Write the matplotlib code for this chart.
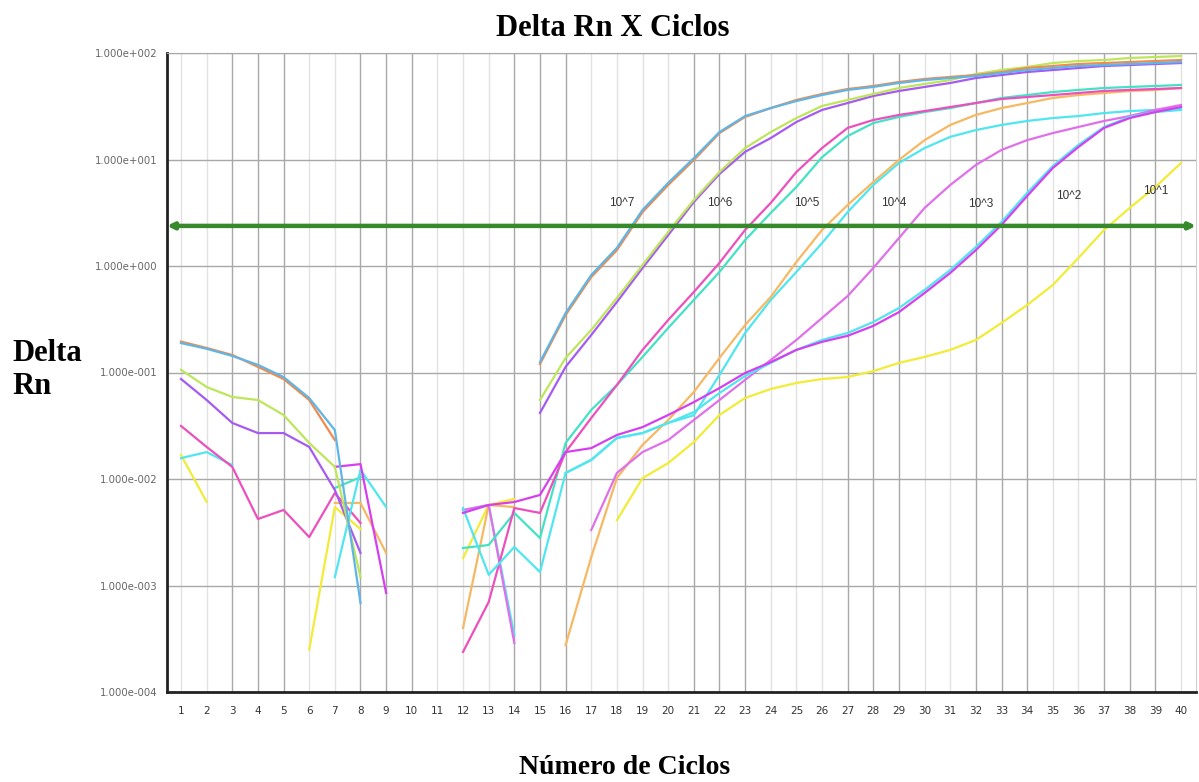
import numpy as np
import matplotlib.pyplot as plt
from matplotlib.ticker import FixedLocator, FuncFormatter, NullLocator

nan = np.nan
ciclos = np.arange(1, 41)

# Delta Rn por ciclo, duplicatas de cada diluição (nan = sem leitura)
laranja_1e7 = [0.195, 0.170, 0.146, 0.113, 0.0869, 0.0552, 0.0232, nan, nan, nan,
               nan, nan, nan, nan, 0.120, 0.347, 0.788, 1.41, 3.21, 5.76,
               9.89, 17.7, 25.1, 30.4, 36.2, 41.2, 45.9, 49.0, 53.4, 57.0,
               59.6, 62.1, 66.3, 72.3, 75.5, 78.8, 80.5, 82.3, 84.1, 85.9]
azul_1e7 = [0.189, 0.167, 0.143, 0.118, 0.0907, 0.0576, 0.0288, 0.000685, nan, nan,
            nan, nan, nan, nan, 0.125, 0.362, 0.823, 1.48, 3.36, 6.03,
            10.3, 18.1, 25.6, 30.4, 35.4, 40.3, 45.0, 48.0, 52.3, 55.7,
            58.2, 60.8, 64.9, 69.2, 72.3, 75.5, 77.1, 78.8, 80.5, 82.3]
verde_1e6 = [0.106, 0.0731, 0.0589, 0.0552, 0.0399, 0.0218, 0.0130, 0.00120, nan, nan,
             nan, nan, nan, nan, 0.0552, 0.137, 0.251, 0.501, 1.02, 2.09,
             4.17, 7.63, 12.8, 18.1, 24.5, 31.8, 36.2, 41.2, 46.9, 51.2,
             55.7, 63.5, 69.2, 73.9, 80.5, 84.1, 85.9, 89.8, 91.7, 93.7]
roxo_1e6 = [0.0869, 0.0552, 0.0336, 0.0270, 0.0270, 0.0200, 0.00788, 0.00202, nan, nan,
            nan, nan, nan, nan, 0.0417, 0.113, 0.225, 0.459, 0.958, 1.95,
            3.99, 7.31, 11.8, 15.9, 22.5, 29.2, 33.9, 39.5, 44.0, 48.0,
            52.3, 58.2, 62.1, 66.3, 69.2, 72.3, 75.5, 77.1, 78.8, 80.5]
rosa_1e5 = [0.0315, 0.0200, 0.0130, 0.00421, 0.00512, 0.00285, 0.00739, 0.00386, nan, nan,
            nan, 0.000238, 0.000700, 0.00534, 0.00480, 0.0179, 0.0374, 0.0763, 0.163, 0.311,
            0.570, 1.07, 2.18, 3.91, 7.63, 12.8, 19.8, 23.5, 26.2, 28.5,
            31.1, 33.9, 37.0, 38.6, 40.3, 42.1, 44.0, 45.0, 45.9, 46.9]
turquesa_1e5 = [nan, nan, nan, nan, nan, nan, 0.00823, 0.0104, nan, nan,
                nan, 0.00225, 0.00240, 0.00480, 0.00279, 0.0218, 0.0445, 0.0763, 0.140, 0.262,
                0.480, 0.879, 1.75, 3.15, 5.52, 10.5, 16.6, 22.0, 25.1, 27.9,
                30.4, 33.9, 37.8, 40.3, 43.0, 45.0, 46.9, 48.0, 49.0, 50.1]
laranja_1e4 = [nan, nan, nan, nan, nan, nan, 0.00596, 0.00596, 0.00202, nan,
               nan, 0.000399, 0.00570, 0.00545, nan, 0.000276, 0.00185, 0.0102, 0.0209, 0.0358,
               0.0656, 0.137, 0.279, 0.512, 1.09, 2.18, 3.74, 6.15, 9.90, 15.2,
               21.1, 26.2, 30.4, 33.9, 37.8, 40.3, 42.1, 44.0, 45.0, 46.9]
ciano_1e4 = [0.0157, 0.0179, 0.0135, nan, nan, nan, nan, nan, nan, nan,
             nan, 0.00512, 0.00570, 0.000343, nan, 0.0114, 0.0151, 0.0243, 0.0270, 0.0336,
             0.0397, 0.0948, 0.235, 0.480, 0.879, 1.64, 3.21, 5.76, 9.27, 12.8,
             16.3, 18.9, 21.1, 23.0, 24.5, 25.6, 27.3, 28.5, 29.2, 30.4]
magenta_1e3 = [nan, nan, nan, nan, nan, nan, nan, nan, nan, nan,
               nan, 0.00510, 0.00570, 0.000288, nan, nan, 0.00332, 0.0114, 0.0179, 0.0232,
               0.0358, 0.0552, 0.0852, 0.131, 0.202, 0.325, 0.523, 0.958, 1.83, 3.51,
               5.76, 8.88, 12.3, 15.2, 17.7, 20.2, 23.0, 25.6, 29.2, 32.5]
ciano_1e2 = [nan, nan, nan, nan, nan, nan, 0.00120, 0.0122, 0.00545, nan,
             nan, 0.00534, 0.00126, 0.00230, 0.00134, 0.0114, 0.0151, 0.0243, 0.0270, 0.0336,
             0.0425, 0.0642, 0.0927, 0.123, 0.163, 0.202, 0.235, 0.298, 0.403, 0.596,
             0.917, 1.51, 2.59, 4.85, 8.69, 13.7, 20.2, 25.1, 27.9, 29.2]
magenta_1e2 = [nan, nan, nan, nan, nan, nan, 0.0130, 0.0138, 0.000851, nan,
               nan, 0.00480, 0.00570, 0.00608, 0.00708, 0.0179, 0.0195, 0.0259, 0.0307, 0.0399,
               0.0527, 0.0714, 0.0990, 0.125, 0.163, 0.194, 0.221, 0.274, 0.369, 0.558,
               0.860, 1.41, 2.43, 4.54, 8.32, 13.1, 19.8, 24.5, 27.9, 31.1]
amarelo_1e1 = [0.0168, 0.0061, nan, nan, nan, 0.00025, 0.00545, 0.00339, nan, nan,
               nan, 0.00181, 0.00570, 0.00650, nan, nan, nan, 0.0041, 0.0102, 0.0141,
               0.0222, 0.0399, 0.0576, 0.0700, 0.0797, 0.0869, 0.0907, 0.103, 0.123, 0.140,
               0.163, 0.202, 0.292, 0.430, 0.663, 1.19, 2.18, 3.51, 5.52, 9.27]

limiar = 2.38
diluicoes = ["10^7", "10^6", "10^5", "10^4", "10^3", "10^2", "10^1"]
ticks_y = [1e-4, 1e-3, 1e-2, 1e-1, 1e0, 1e1, 1e2]
# ciclos com linha de grade mais escura
grade_escura = [3, 4, 5, 8, 9, 10, 14, 15, 16, 21, 22, 23, 27, 28, 29, 32, 33, 34, 37, 38, 39]

curvas = [
    (amarelo_1e1, "#f1ec36"),
    (ciano_1e4, "#4fe6ef"),
    (laranja_1e4, "#f6b862"),
    (magenta_1e3, "#e070ea"),
    (turquesa_1e5, "#44e2c4"),
    (rosa_1e5, "#ec50bd"),
    (ciano_1e2, "#4fe6ef"),
    (magenta_1e2, "#d63ff0"),
    (roxo_1e6, "#a65af2"),
    (verde_1e6, "#bde65a"),
    (laranja_1e7, "#f08a4e"),
    (azul_1e7, "#5fb6e6"),
]

fig = plt.figure(figsize=(11.99, 7.82), dpi=100)
ax = fig.add_axes([167 / 1199, 1 - 692 / 782, 1029 / 1199, 639 / 782])

xmin, xmax = 0.454, 40.585
ax.set_xlim(xmin, xmax)
ax.set_yscale("log")
ax.set_ylim(1e-4, 1e2)

# grade
for c in ciclos:
    ax.axvline(c, color="#a8a8a8" if c in grade_escura else "#e2e2e2", lw=1, zorder=0)
for t in ticks_y:
    ax.axhline(t, color="#a8a8a8", lw=1, zorder=0)

for valores, cor in curvas:
    ax.plot(ciclos, valores, color=cor, lw=1.6, zorder=2)

# linha de limiar com setas nas pontas
ax.annotate("", xy=(xmax, limiar), xytext=(xmin, limiar), annotation_clip=False,
            arrowprops=dict(arrowstyle="<|-|>", color="#378a2b", lw=3.2,
                            mutation_scale=9, shrinkA=0, shrinkB=0), zorder=3)

pos_rotulos = [(18.2, 3.9), (22.0, 3.9), (25.4, 3.9), (28.8, 3.9), (32.2, 3.8), (35.6, 4.5), (39.0, 5.1)]
for texto, (x, y) in zip(diluicoes, pos_rotulos):
    ax.text(x, y, texto, ha="center", va="center", fontsize=8.5, color="#333333",
            family="Liberation Sans", zorder=4)

ax.xaxis.set_major_locator(FixedLocator(ciclos))
ax.yaxis.set_major_locator(FixedLocator(ticks_y))
ax.yaxis.set_minor_locator(NullLocator())
ax.yaxis.set_major_formatter(FuncFormatter(lambda v, _: f"1.000e{int(round(np.log10(v))):+04d}"))
ax.tick_params(axis="y", length=0, pad=7, labelsize=7.3, labelcolor="#666666")
ax.tick_params(axis="x", length=0, pad=10, labelsize=7.5, labelcolor="#333333")

for lado in ["left", "bottom"]:
    ax.spines[lado].set_color("#222222")
    ax.spines[lado].set_linewidth(2)
ax.spines["top"].set_color("#a8a8a8")
ax.spines["right"].set_color("#d0d0d0")

serif = "Liberation Serif"
fig.text(0.511, 1 - 29 / 782, "Delta Rn X Ciclos", ha="center", va="center",
         fontsize=22, fontweight="bold", family=serif)
fig.text(0.521, 1 - 767 / 782, "Número de Ciclos", ha="center", va="center",
         fontsize=20, fontweight="bold", family=serif)
fig.text(0.010, 1 - 370 / 782, "Delta\nRn", ha="left", va="center", linespacing=1.2,
         fontsize=22, fontweight="bold", family=serif)

fig.savefig("out.png", dpi=100)
